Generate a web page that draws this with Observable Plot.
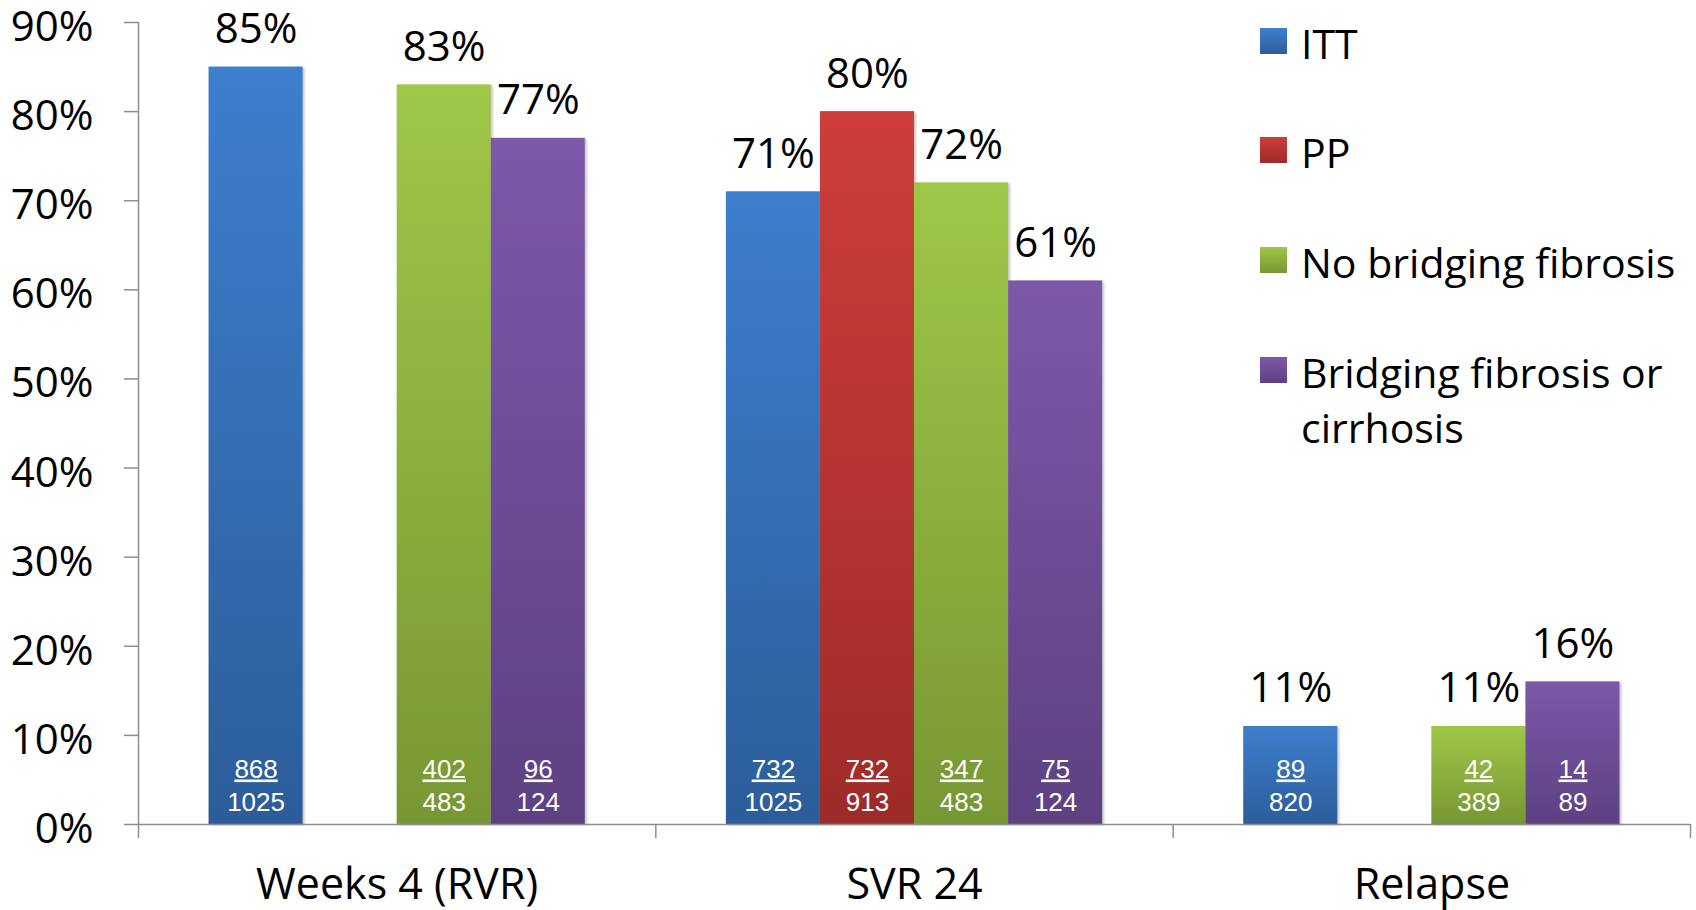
<!DOCTYPE html>
<html>
<head>
<meta charset="utf-8">
<script src="https://cdn.jsdelivr.net/npm/d3@7"></script>
<script src="https://cdn.jsdelivr.net/npm/@observablehq/plot@0.6"></script>
<style>
  html, body { margin: 0; padding: 0; background: #fff; }
  #chart { position: relative; width: 1696px; height: 910px; font-family: "Open Sans", Lato, sans-serif; }
  #chart svg { display: block; }
  g[aria-description="numerator"] text { text-decoration: underline; }
  g[aria-description="bars"] rect { filter: drop-shadow(2px 1px 1px rgba(0,0,0,0.22)); }
  .legend { position: absolute; left: 1260px; top: 0; font-size: 41px; line-height: 55px; color: #000; }
  .legend .item { position: absolute; left: 0; width: 430px; }
  .legend .swatch { position: absolute; left: 0; top: 12px; width: 27px; height: 26px; }
  .legend .label { position: absolute; left: 41px; top: 0; white-space: nowrap; }
</style>
</head>
<body>
<div id="chart"></div>
<script>
// Categories on the x axis and the four patient groups
const categories = ["Weeks 4 (RVR)", "SVR 24", "Relapse"];
const series = ["ITT", "PP", "No bridging fibrosis", "Bridging fibrosis or cirrhosis"];

// Percentages per category (null = group not reported)
const ittPct = [85, 71, 11];
const ppPct = [null, 80, null];
const noBridgingPct = [83, 72, 11];
const bridgingPct = [77, 61, 16];

// Patient counts: numerator / denominator
const ittNum = [868, 732, 89];
const ittDen = [1025, 1025, 820];
const ppNum = [null, 732, null];
const ppDen = [null, 913, null];
const noBridgingNum = [402, 347, 42];
const noBridgingDen = [483, 483, 389];
const bridgingNum = [96, 75, 14];
const bridgingDen = [124, 124, 89];

const yTicks = [0, 10, 20, 30, 40, 50, 60, 70, 80, 90];

// Bar gradients, top colour to bottom colour
const gradTop = ["#3d7fcd", "#ce3e3a", "#9fc748", "#7d58a9"];
const gradBottom = ["#2c5d9a", "#9e2b29", "#779733", "#5d4181"];
const legendColors = gradTop.map((t, j) => `linear-gradient(${t}, ${gradBottom[j]})`);

const pctBySeries = [ittPct, ppPct, noBridgingPct, bridgingPct];
const numBySeries = [ittNum, ppNum, noBridgingNum, bridgingNum];
const denBySeries = [ittDen, ppDen, noBridgingDen, bridgingDen];

// Each category is one unit wide: 4 bar slots plus 0.75 slot of space on each side
const outer = 0.75;
const slots = series.length + 2 * outer;

const rows = categories.flatMap((cat, ci) => series.map((s, si) => ({
  cat, ci, si, series: s,
  pct: pctBySeries[si][ci],
  num: numBySeries[si][ci],
  den: denBySeries[si][ci]
}))).filter(d => d.pct != null);

const left = d => d.ci + (outer + d.si) / slots;
const right = d => left(d) + 1 / slots;
const mid = d => left(d) + 0.5 / slots;

// Gradient definitions, one per group, applied per bar bounding box
const defs = () => {
  const ns = "http://www.w3.org/2000/svg";
  const el = document.createElementNS(ns, "defs");
  series.forEach((s, j) => {
    const g = document.createElementNS(ns, "linearGradient");
    g.setAttribute("id", `bar-grad-${j}`);
    g.setAttribute("x1", "0"); g.setAttribute("y1", "0");
    g.setAttribute("x2", "0"); g.setAttribute("y2", "1");
    [[0, gradTop[j]], [1, gradBottom[j]]].forEach(([o, c]) => {
      const stop = document.createElementNS(ns, "stop");
      stop.setAttribute("offset", o);
      stop.setAttribute("stop-color", c);
      g.appendChild(stop);
    });
    el.appendChild(g);
  });
  return el;
};

const axisGray = "#8e8e8e";
const countFont = "'Liberation Sans', Arial, sans-serif";

const chart = Plot.plot({
  width: 1696,
  height: 910,
  marginLeft: 138,
  marginRight: 6,
  marginTop: 22,
  marginBottom: 86,
  style: { fontFamily: "'Open Sans', Lato, sans-serif", background: "#fff", overflow: "visible" },
  x: { type: "linear", domain: [0, categories.length] },
  y: { domain: [0, 90] },
  color: { type: "ordinal", domain: series, range: series.map((_, j) => `url(#bar-grad-${j})`) },
  marks: [
    defs,
    Plot.rectY(rows, { x1: left, x2: right, y1: 0, y2: "pct", fill: "series", ariaDescription: "bars" }),
    // y axis: tick marks, tick labels and axis line
    Plot.axisY({ ticks: yTicks, tickFormat: () => "", tickSize: 14, stroke: axisGray, strokeWidth: 1.5, label: null }),
    Plot.axisY({ ticks: yTicks, tickFormat: d => d + "%", tickSize: 0, tickPadding: 45, fontSize: 42, color: "#000", label: null, dy: 5 }),
    Plot.ruleX([0], { y1: 0, y2: 90, stroke: axisGray, strokeWidth: 1.5 }),
    // x axis baseline, category separators and category labels
    Plot.ruleY([0], { stroke: axisGray, strokeWidth: 1.5 }),
    Plot.axisX({ ticks: d3.range(categories.length + 1), tickFormat: () => "", tickSize: 14, stroke: axisGray, strokeWidth: 1.5, label: null }),
    Plot.axisX({ ticks: categories.map((_, i) => i + 0.5), tickFormat: d => categories[Math.floor(d)], tickSize: 0, tickPadding: 44, fontSize: 43, color: "#000", label: null }),
    // value labels above bars
    Plot.text(rows, { x: mid, y: "pct", text: d => d.pct + "%", dy: -24, lineAnchor: "bottom", fontSize: 42, fill: "#000" }),
    // counts inside bars
    Plot.text(rows, { x: mid, y: () => 0, text: d => String(d.num), dy: -47, lineAnchor: "bottom", fontSize: 26, fontFamily: countFont, fill: "#fff", ariaDescription: "numerator" }),
    Plot.text(rows, { x: mid, y: () => 0, text: d => String(d.den), dy: -14, lineAnchor: "bottom", fontSize: 26, fontFamily: countFont, fill: "#fff", ariaDescription: "denominator" })
  ]
});

const container = document.getElementById("chart");
container.appendChild(chart);

// Legend on the right-hand side
const legendTops = [16, 125, 235, 345];
const legend = document.createElement("div");
legend.className = "legend";
series.forEach((s, j) => {
  const item = document.createElement("div");
  item.className = "item";
  item.style.top = legendTops[j] + "px";
  const sw = document.createElement("div");
  sw.className = "swatch";
  sw.style.background = legendColors[j];
  const lab = document.createElement("div");
  lab.className = "label";
  lab.innerHTML = s === "Bridging fibrosis or cirrhosis" ? "Bridging fibrosis or<br>cirrhosis" : s;
  item.appendChild(sw);
  item.appendChild(lab);
  legend.appendChild(item);
});
container.appendChild(legend);
</script>
</body>
</html>
